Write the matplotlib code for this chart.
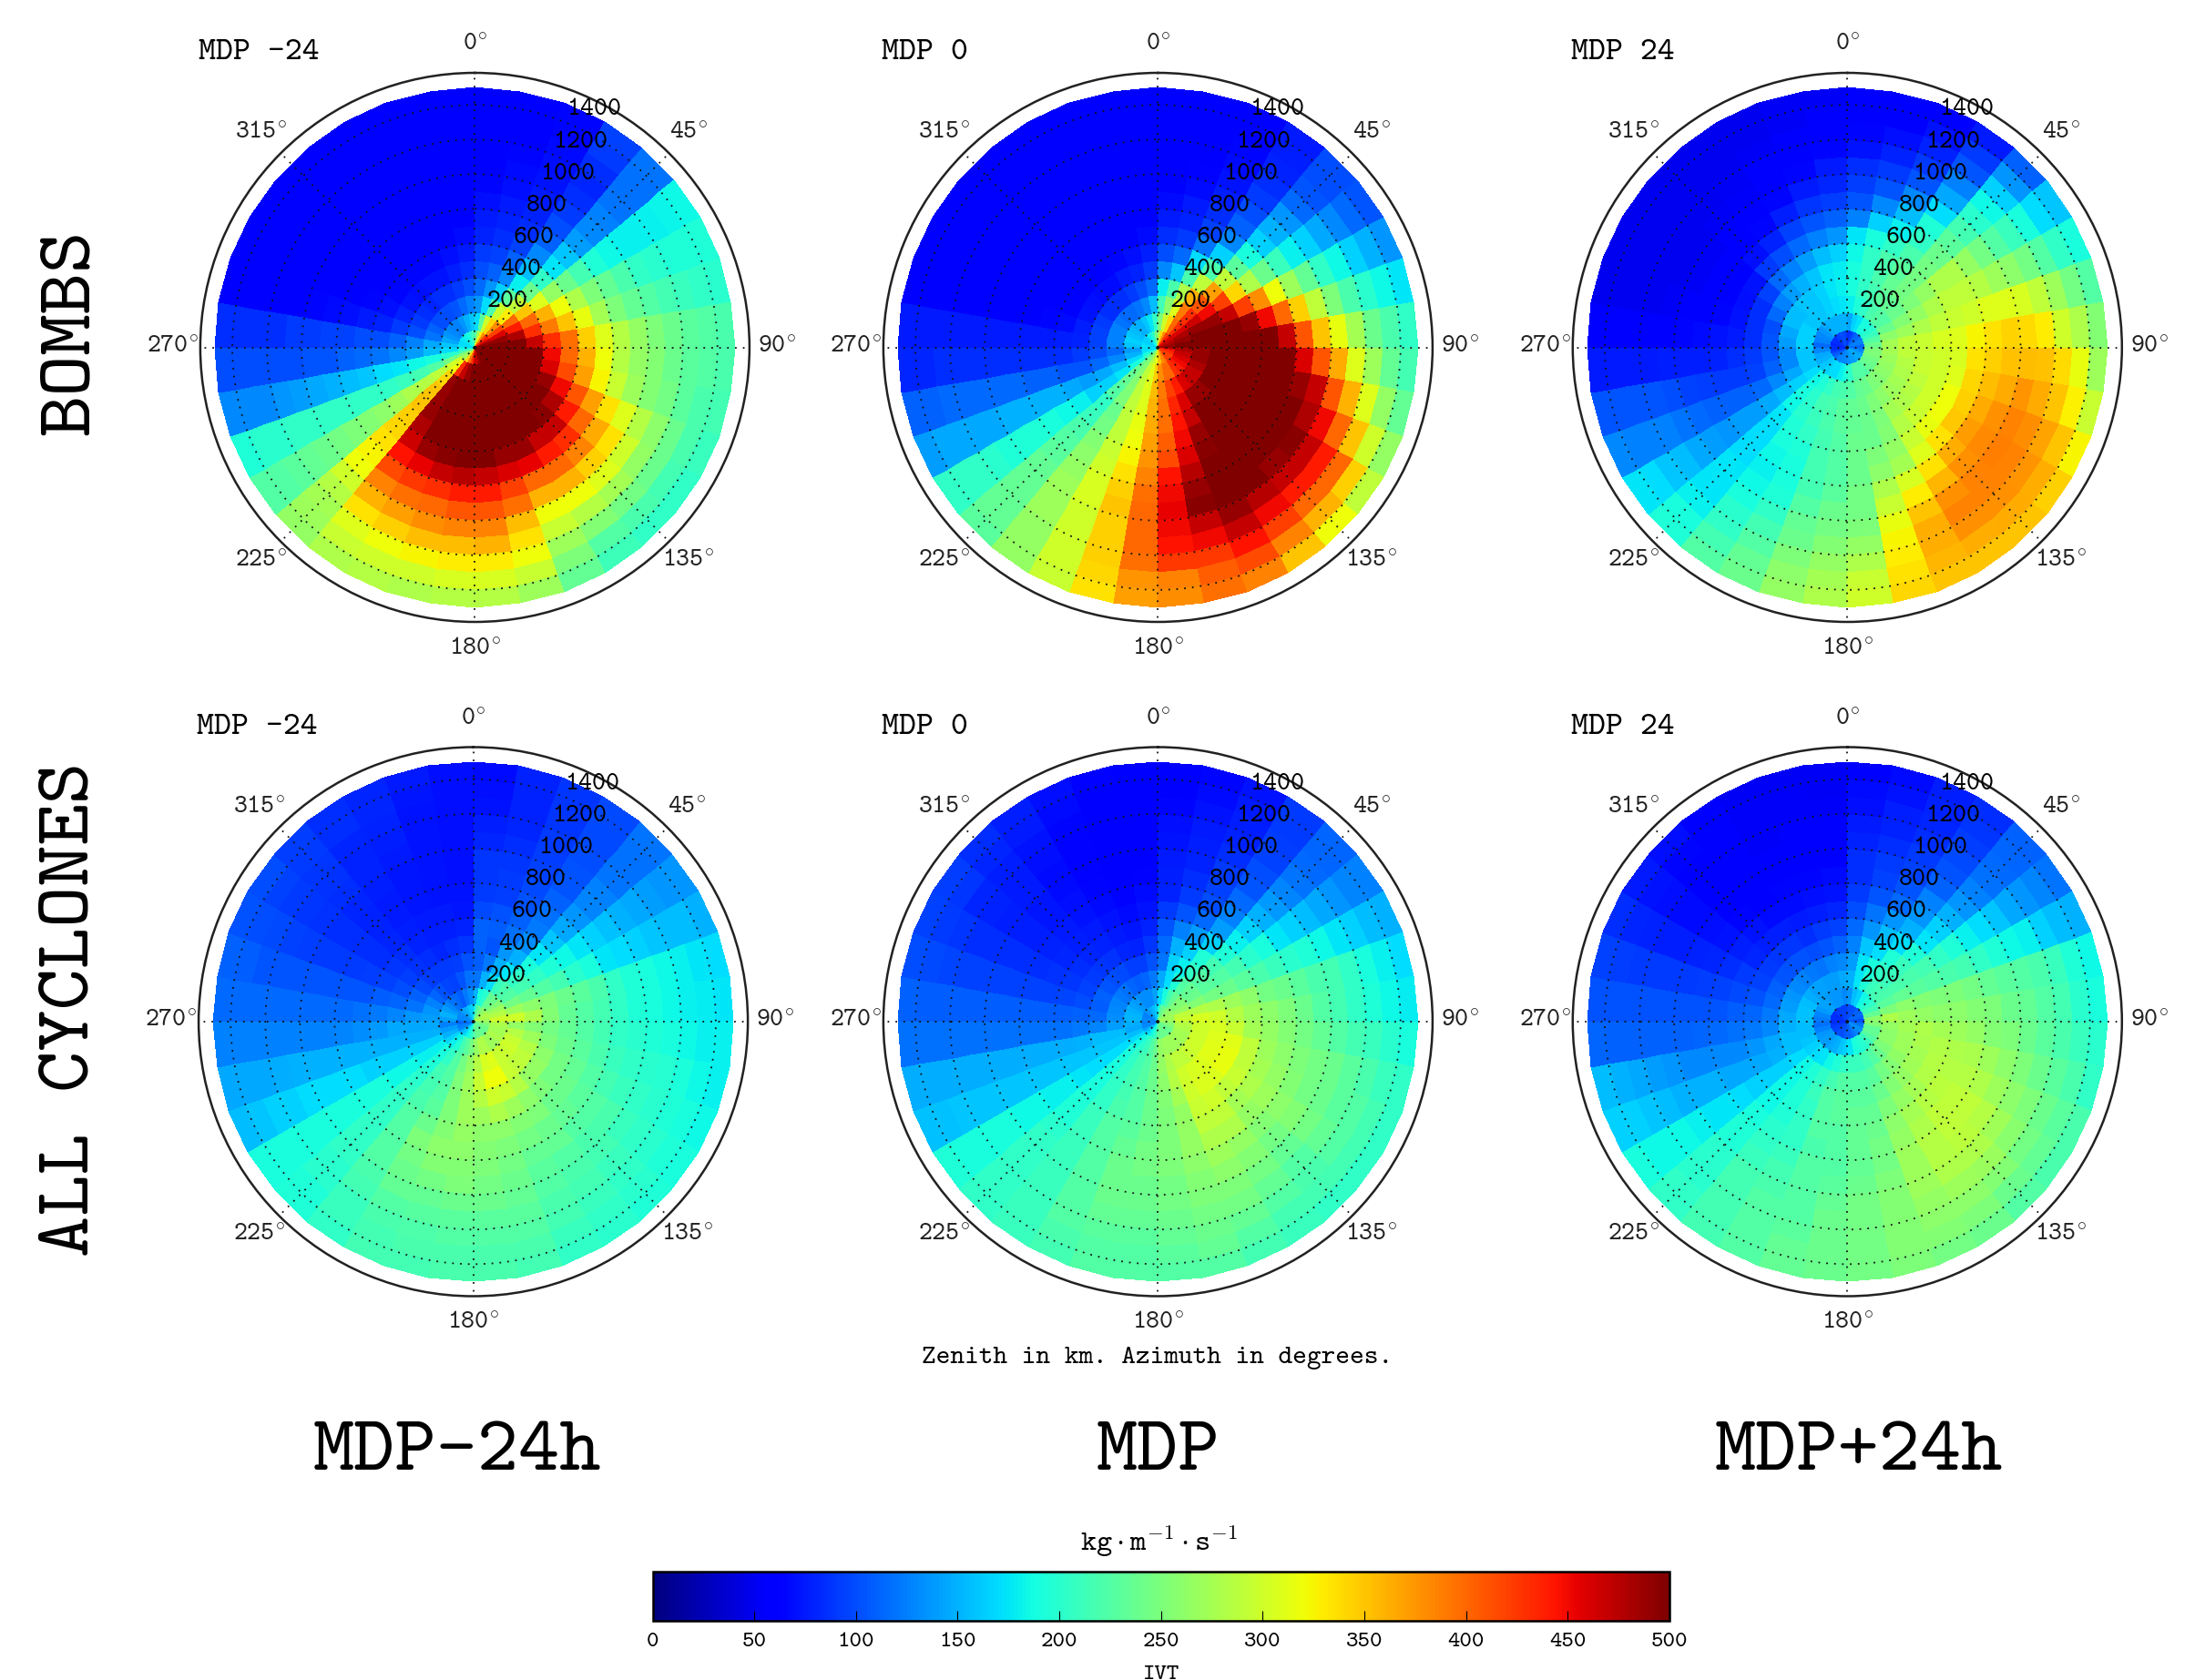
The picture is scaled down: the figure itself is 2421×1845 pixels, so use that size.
import numpy as np
import matplotlib
matplotlib.use('Agg')
import matplotlib.pyplot as plt

plt.rcParams['font.family'] = ['cmtt10', 'DejaVu Sans']
plt.rcParams['mathtext.fontset'] = 'cm'

# sector edges in degrees clockwise from north, range edges in km
azimuth_edges = np.arange(0, 361, 10)
range_edges = np.arange(0, 1501, 100)
range_ticks = [200, 400, 600, 800, 1000, 1200, 1400]
azimuth_ticks = [0, 45, 90, 135, 180, 225, 270, 315]
cbar_ticks = [0, 50, 100, 150, 200, 250, 300, 350, 400, 450, 500]

# IVT, one row per 10 degree sector, inner ring first
bombs_m24 = [
    [230,170,135,115,100,90,80,75,70,65,60,60,55,55,55],
    [280,230,170,135,110,95,85,80,75,70,68,65,62,60,58],
    [330,300,220,165,130,110,95,85,80,75,72,70,68,65,65],
    [380,340,300,230,180,155,130,110,100,90,85,82,85,90,95],
    [420,380,330,290,240,205,175,160,140,130,125,120,118,118,120],
    [440,420,400,350,310,265,240,215,195,185,180,180,180,182,185],
    [470,460,440,400,360,320,280,250,235,220,205,200,195,195,195],
    [490,490,480,430,390,350,315,275,250,235,225,215,210,205,200],
    [500,500,500,470,430,395,345,310,285,265,250,240,230,225,220],
    [500,500,500,500,450,400,360,320,285,265,255,240,230,225,220],
    [500,500,500,500,460,415,370,325,295,270,255,245,230,220,215],
    [500,500,500,500,490,450,410,370,335,310,285,260,240,220,210],
    [500,500,500,500,500,480,440,400,365,335,300,265,240,215,205],
    [500,500,500,500,500,495,470,430,385,345,310,275,245,220,205],
    [500,500,500,500,500,500,470,440,400,360,320,285,255,225,212],
    [500,500,500,500,500,500,490,455,400,360,320,295,270,250,235],
    [490,500,500,500,500,500,490,460,420,395,355,335,320,295,270],
    [470,500,500,500,500,500,500,470,440,410,385,360,330,305,285],
    [450,500,500,500,500,500,500,475,440,410,385,355,330,305,285],
    [420,490,500,500,500,500,495,470,430,400,380,355,325,300,280],
    [390,470,500,500,500,500,490,455,425,395,370,345,320,300,285],
    [340,430,490,490,490,480,465,445,415,385,360,335,310,295,280],
    [280,320,340,350,350,345,340,335,325,320,300,285,275,270,265],
    [270,300,290,285,280,270,260,255,250,245,240,235,230,225,225],
    [250,245,225,215,210,205,205,205,205,205,205,205,200,200,195],
    [215,200,190,185,175,170,160,155,150,145,140,135,130,130,130],
    [190,170,155,140,130,120,115,110,105,105,100,100,100,100,100],
    [175,160,145,125,110,100,100,95,95,90,90,85,85,85,85],
    [170,145,120,100,90,80,75,70,68,65,62,60,60,60,58],
    [170,135,110,90,80,70,65,60,58,55,55,55,55,55,55],
    [175,130,100,85,72,65,60,58,56,56,55,55,55,55,55],
    [180,125,100,82,70,65,60,58,56,55,55,55,55,55,55],
    [185,125,100,85,72,65,62,58,56,55,55,55,55,55,55],
    [190,135,105,85,72,65,60,58,56,55,55,55,55,55,55],
    [200,150,115,90,78,70,62,60,58,56,55,55,55,55,55],
    [215,160,125,100,85,75,68,62,60,58,58,56,56,56,56],
]
bombs_0 = [
    [280,250,215,180,130,100,85,75,68,62,60,58,56,55,55],
    [340,300,260,220,160,115,90,80,75,68,64,62,60,58,58],
    [380,340,310,280,220,170,120,95,85,78,72,68,65,62,60],
    [420,400,390,360,290,220,165,130,110,100,90,85,80,78,75],
    [440,430,430,410,370,290,230,190,165,150,135,115,105,100,100],
    [460,460,465,450,420,340,280,240,210,180,165,145,130,115,105],
    [470,480,490,490,470,420,380,320,270,235,205,185,165,150,135],
    [480,490,500,500,500,490,450,400,345,290,250,220,200,185,175],
    [490,500,500,500,500,500,500,470,410,350,315,275,240,220,205],
    [470,480,490,500,500,500,500,500,460,410,365,310,270,235,215],
    [440,470,490,500,500,500,500,500,490,470,410,360,310,265,235],
    [430,460,480,500,500,500,500,500,500,480,450,400,350,300,265],
    [420,450,470,500,500,500,500,500,500,495,470,440,400,345,290],
    [420,440,470,490,500,500,500,500,500,490,470,440,400,360,320],
    [420,430,460,490,500,500,500,500,500,500,475,450,420,385,350],
    [390,400,440,460,470,490,495,500,500,500,490,470,445,415,385],
    [380,400,420,435,445,450,460,475,490,495,470,450,425,405,395],
    [350,380,390,395,395,405,415,445,450,455,450,445,425,385,380],
    [320,345,355,360,365,370,375,385,395,400,400,400,395,375,370],
    [300,310,310,310,315,320,325,335,345,350,345,345,345,340,335],
    [280,290,290,290,290,290,295,300,305,305,300,300,300,300,295],
    [250,255,255,250,240,245,255,260,265,270,270,270,265,265,265],
    [240,240,235,225,205,210,220,225,230,235,235,235,235,235,230],
    [210,190,175,165,165,180,185,190,195,195,195,200,205,205,205],
    [190,170,155,145,140,145,150,150,150,150,145,145,145,145,140],
    [175,150,130,115,105,105,110,110,115,115,115,115,115,110,110],
    [170,140,115,100,90,85,85,85,85,85,85,85,85,82,82],
    [175,160,125,95,80,78,75,75,75,75,75,75,75,75,75],
    [170,165,125,95,78,68,65,62,60,60,60,60,60,60,60],
    [165,160,125,90,72,62,58,56,55,55,55,55,55,55,55],
    [165,155,120,85,70,60,56,55,55,55,55,55,55,55,55],
    [170,150,115,85,68,58,55,55,55,55,55,55,55,55,55],
    [180,150,115,85,68,60,56,55,55,55,55,55,55,55,55],
    [190,160,120,90,75,65,58,55,55,55,55,55,55,55,55],
    [210,175,130,100,80,70,62,58,55,55,55,55,55,55,55],
    [245,205,155,115,90,78,68,62,58,56,55,55,55,55,55],
]
bombs_p24 = [
    [85,145,180,190,190,185,175,125,105,92,85,72,65,60,55],
    [90,165,195,205,205,205,190,165,130,105,90,80,70,62,58],
    [100,175,205,215,220,220,205,180,155,130,105,90,80,72,62],
    [110,190,220,230,235,230,220,205,195,170,145,125,105,90,75],
    [115,190,225,235,245,245,245,240,230,215,200,185,165,135,110],
    [120,200,225,240,250,265,280,280,265,245,225,210,190,170,160],
    [125,210,240,255,265,280,290,290,285,270,260,245,225,205,190],
    [125,225,260,270,280,290,295,300,310,310,305,290,270,245,225],
    [115,240,275,290,295,305,310,325,335,342,338,330,300,280,255],
    [120,250,275,290,295,300,305,335,345,352,355,352,338,315,270],
    [130,250,270,285,295,300,310,340,355,365,375,365,350,328,295],
    [140,245,265,280,290,300,320,345,365,378,385,380,368,350,325],
    [145,240,260,275,285,300,320,348,372,382,388,385,375,362,345],
    [150,235,255,270,280,295,315,335,362,378,385,385,378,365,350],
    [145,225,250,260,275,285,295,310,335,358,378,385,378,362,350],
    [140,225,240,250,250,255,265,275,305,330,350,362,362,358,350],
    [140,225,235,240,240,240,250,260,280,295,315,325,330,335,340],
    [135,205,225,235,235,240,240,240,245,245,250,265,280,295,300],
    [130,190,220,230,230,225,225,225,230,240,245,255,265,275,280],
    [130,180,215,220,220,215,215,215,215,225,235,240,250,260,265],
    [130,170,205,215,210,205,195,190,190,195,205,215,225,235,240],
    [125,170,195,200,200,195,190,185,180,185,190,200,205,215,225],
    [125,165,185,190,185,175,170,170,170,175,175,175,180,190,195],
    [115,160,170,165,155,145,140,140,135,140,145,155,160,170,175],
    [105,150,160,145,130,115,110,110,110,115,120,125,125,125,130],
    [95,145,160,130,110,95,90,90,92,95,100,105,105,105,105],
    [85,130,160,130,105,90,85,80,78,78,78,76,76,75,75],
    [85,115,165,140,105,85,75,72,68,65,62,62,60,60,60],
    [80,125,165,145,100,85,72,65,60,55,52,50,50,50,50],
    [85,130,165,155,115,85,70,60,55,52,50,50,50,50,50],
    [85,135,160,155,125,95,72,60,55,52,50,50,50,50,50],
    [90,145,160,160,140,115,90,70,60,55,52,50,50,50,50],
    [95,150,160,160,150,125,100,80,65,58,54,52,50,50,50],
    [100,150,165,165,160,140,115,95,78,65,58,55,52,50,50],
    [100,150,170,175,175,155,125,105,88,75,65,58,55,52,52],
    [95,150,175,180,178,165,135,110,92,82,75,65,60,55,52],
]
all_m24 = [
    [180,150,120,108,110,110,98,90,88,88,82,78,72,70,68],
    [220,190,150,122,105,108,102,92,90,88,85,82,80,80,80],
    [240,200,170,150,135,118,110,102,98,95,92,90,88,88,88],
    [250,235,210,175,150,132,122,118,110,105,102,100,98,98,98],
    [260,240,220,205,190,175,160,145,135,128,125,120,118,118,120],
    [270,255,225,215,205,195,185,175,165,158,150,145,140,135,135],
    [280,270,245,235,225,215,200,190,175,170,165,160,155,155,150],
    [280,285,270,260,250,240,230,220,205,195,190,185,180,175,170],
    [270,300,300,280,255,235,225,215,205,195,190,185,180,178,175],
    [260,280,265,255,245,235,225,215,205,200,195,190,185,180,180],
    [250,275,285,270,250,240,230,220,210,205,200,198,192,185,180],
    [240,275,295,285,260,245,235,225,215,210,205,200,195,190,185],
    [240,280,300,290,265,245,240,230,225,220,210,205,200,195,190],
    [235,270,295,290,265,250,240,235,225,220,215,210,205,200,195],
    [235,270,295,295,285,260,250,240,235,225,220,215,210,205,200],
    [240,280,310,320,295,270,255,245,235,230,225,220,215,210,205],
    [240,280,305,320,300,280,260,250,245,240,235,230,225,220,215],
    [230,265,285,295,285,270,260,255,250,245,240,230,225,220,220],
    [210,245,265,270,270,270,265,260,255,250,240,230,225,220,220],
    [195,230,245,250,250,250,255,260,255,245,235,228,222,220,215],
    [185,215,225,225,225,230,240,250,245,240,235,225,220,215,215],
    [170,195,205,215,215,220,225,225,225,225,220,215,210,210,205],
    [160,180,190,195,200,205,205,205,205,205,205,200,200,195,195],
    [145,165,180,180,185,185,190,190,190,190,190,190,190,190,190],
    [130,150,165,165,165,165,165,170,170,170,170,165,165,160,155],
    [125,140,150,150,150,150,150,150,150,150,150,148,145,145,145],
    [115,125,145,145,145,138,132,128,126,125,125,125,125,125,125],
    [120,140,140,135,128,122,118,115,115,115,115,115,115,115,115],
    [130,150,135,120,112,108,105,105,105,105,105,105,105,108,110],
    [130,140,125,110,100,95,92,90,90,90,92,95,98,100,102],
    [130,130,112,98,92,88,85,84,84,84,86,88,90,95,100],
    [140,120,102,92,86,84,82,80,80,82,84,86,88,90,92],
    [145,115,96,90,84,80,78,76,76,78,80,80,82,85,85],
    [150,108,95,90,82,78,76,74,74,74,76,78,80,82,82],
    [160,122,104,92,84,78,76,72,72,72,72,72,72,74,76],
    [165,132,118,102,88,80,74,72,70,70,70,70,70,70,70],
]
all_0 = [
    [190,170,145,120,115,105,90,80,78,75,72,70,65,62,60],
    [230,190,170,165,150,125,105,90,85,80,78,75,72,68,65],
    [240,215,195,180,165,140,115,100,95,90,85,80,78,75,72],
    [250,235,225,205,195,165,140,125,115,105,100,95,92,90,90],
    [260,250,235,225,215,195,180,165,150,138,128,120,115,112,112],
    [265,255,240,230,225,215,200,190,175,165,155,145,135,128,125],
    [270,265,255,245,240,230,220,210,200,195,185,175,165,155,150],
    [270,290,285,280,270,260,245,240,230,220,215,205,190,180,170],
    [270,295,305,300,285,270,260,250,240,225,215,205,195,185,178],
    [260,285,300,305,295,275,265,255,245,235,225,215,210,200,190],
    [255,280,300,310,312,290,270,260,250,245,240,230,220,210,205],
    [245,275,300,312,315,290,275,265,255,245,240,230,225,215,205],
    [240,275,300,312,315,295,280,270,260,255,245,235,225,215,205],
    [235,270,295,308,308,290,275,265,255,245,235,225,220,215,205],
    [240,270,290,305,308,300,290,280,265,255,245,235,225,215,210],
    [240,270,290,300,300,295,290,280,270,260,250,245,235,225,215],
    [240,270,280,285,275,265,265,265,260,255,250,245,240,235,225],
    [235,265,265,260,255,250,250,250,250,245,245,240,235,230,225],
    [220,240,240,240,240,240,240,245,245,240,240,235,230,225,225],
    [205,225,225,225,225,225,230,235,240,240,240,235,230,225,225],
    [190,210,215,215,215,220,225,225,225,225,225,225,225,220,215],
    [180,200,205,205,205,205,210,210,210,210,210,210,210,210,210],
    [165,185,190,190,190,190,195,195,200,205,205,205,205,205,205],
    [155,170,170,170,170,175,180,180,185,185,190,190,190,190,195],
    [140,155,160,160,160,160,160,160,160,160,160,160,160,158,158],
    [130,145,155,155,150,148,148,148,148,148,148,148,148,148,148],
    [125,148,140,128,122,118,118,118,118,118,118,118,118,118,118],
    [130,152,132,115,110,108,108,108,108,108,108,108,108,108,110],
    [130,152,130,108,100,96,95,95,95,95,95,95,96,98,100],
    [125,148,128,110,95,88,86,85,85,85,85,85,88,90,95],
    [125,142,122,105,90,85,82,80,78,78,78,80,82,88,92],
    [135,138,118,100,88,82,78,76,74,74,75,76,78,82,85],
    [140,132,112,98,86,80,76,72,70,68,68,70,72,76,78],
    [150,132,108,92,82,76,72,68,66,64,64,64,66,68,70],
    [155,132,112,92,80,74,68,64,62,62,62,62,62,62,64],
    [165,142,122,102,88,80,72,68,64,62,60,60,60,60,60],
]
all_p24 = [
    [100,135,150,140,125,115,100,90,85,85,80,75,70,68,60],
    [100,155,175,175,160,135,120,105,95,90,85,80,78,72,68],
    [100,165,195,190,170,155,135,115,105,95,90,85,82,80,78],
    [105,185,210,205,195,170,150,135,125,110,102,98,92,88,85],
    [110,195,215,210,210,195,175,165,150,135,125,118,115,112,110],
    [110,205,220,220,220,215,205,195,180,170,160,145,135,128,120],
    [115,215,230,235,230,225,220,215,205,195,185,180,165,155,150],
    [110,235,250,260,255,250,250,245,235,230,225,220,210,195,185],
    [100,260,280,270,265,260,260,255,250,240,235,225,215,200,190],
    [110,255,265,275,280,275,270,265,255,250,240,230,220,210,200],
    [120,235,260,270,278,282,280,278,270,260,250,240,230,220,205],
    [130,235,260,270,275,285,285,285,280,270,260,250,240,230,220],
    [135,225,250,262,272,282,288,290,290,285,272,258,245,235,220],
    [130,210,240,255,265,275,285,290,290,288,280,268,255,240,225],
    [125,200,225,245,255,265,275,280,285,285,280,270,260,250,240],
    [120,195,215,230,240,250,260,265,270,270,270,265,260,255,245],
    [115,190,210,225,230,235,240,245,245,250,255,255,255,255,250],
    [110,175,210,225,230,235,235,235,235,240,245,245,245,245,245],
    [110,165,205,225,230,230,225,225,225,230,235,240,240,240,240],
    [105,160,195,215,225,225,225,220,225,225,225,225,230,235,235],
    [100,150,185,205,210,205,205,205,210,215,220,225,225,225,225],
    [100,145,175,195,195,195,195,200,205,210,215,215,215,215,215],
    [100,140,170,185,185,185,185,190,195,195,200,200,200,205,205],
    [95,140,165,170,165,165,165,170,175,175,180,185,185,185,190],
    [95,135,160,155,150,145,145,145,150,150,150,155,160,165,165],
    [90,125,155,155,145,135,130,130,130,130,135,140,145,150,155],
    [85,118,155,150,130,122,118,115,112,110,110,110,110,110,112],
    [85,122,158,145,122,112,108,105,102,102,102,102,102,102,102],
    [85,128,158,140,115,102,98,95,92,90,90,90,90,92,95],
    [85,138,155,135,110,95,90,85,82,80,78,78,80,82,85],
    [85,142,148,130,105,90,82,78,72,70,68,68,70,72,75],
    [90,142,142,125,102,88,78,72,66,62,60,60,62,65,70],
    [90,138,142,122,102,88,78,68,62,60,58,56,56,56,58],
    [95,135,140,120,100,85,75,68,65,60,56,54,54,54,52],
    [95,135,140,125,105,90,78,70,65,60,58,56,54,54,52],
    [95,130,145,130,110,95,82,72,68,62,58,56,54,52,52],
]

W, H = 2421, 1845
R = 301.5


def px_axes(x0, y0, x1, y1, **kw):
    # position given in picture pixels, y from the top
    return fig.add_axes([x0 / W, 1 - y1 / H, (x1 - x0) / W, (y1 - y0) / H], **kw)


def px_text(x, y, s, size, **kw):
    fig.text(x / W, 1 - y / H, s, fontsize=size, ha=kw.pop('ha', 'center'), va=kw.pop('va', 'center'), **kw)


panels = [
    (bombs_m24, 521.4, 381.5, 'MDP -24', 218, 58),
    (bombs_0, 1271.4, 381.5, 'MDP 0', 968, 58),
    (bombs_p24, 2028.3, 381.5, 'MDP 24', 1725, 58),
    (all_m24, 519.6, 1122, 'MDP -24', 216, 799),
    (all_0, 1271.4, 1122, 'MDP 0', 968, 799),
    (all_p24, 2028.3, 1122, 'MDP 24', 1725, 799),
]

fig = plt.figure(figsize=(W / 100, H / 100), dpi=100)

for values, cx, cy, title, tx, ty in panels:
    ax = px_axes(cx - R, cy - R, cx + R, cy + R, projection='polar')
    ax.set_theta_zero_location('N')
    ax.set_theta_direction(-1)
    mesh = ax.pcolormesh(np.deg2rad(azimuth_edges), range_edges, np.array(values).T,
                         cmap='jet', vmin=0, vmax=500, shading='flat', antialiased=False)
    ax.set_rlim(0, 1585)
    ax.set_xticks(np.deg2rad(azimuth_ticks))
    ax.set_xticklabels([])
    ax.set_yticks(range_ticks)
    ax.set_yticklabels([])
    ax.set_axisbelow(False)
    ax.grid(True, color='#111111', linestyle=(0, (1, 3.8)), linewidth=1.3)
    ax.tick_params(axis='x', direction='in', length=4, width=1, color='black', pad=0)
    ax.tick_params(axis='y', length=0)
    ax.spines['polar'].set_linewidth(1.8)
    ax.spines['polar'].set_color('#222222')
    for a in azimuth_ticks:
        ax.text(np.deg2rad(a), 1745, '%d$^{\\!\\circ}$' % a, fontsize=20.5, ha='center', va='center',
                color='#222222', clip_on=False)
    for r in range_ticks:
        ax.annotate(str(r), xy=(np.deg2rad(22.5), r), xytext=(-1, 1.5), textcoords='offset points',
                    fontsize=20.5, ha='left', va='bottom', color='black', zorder=6)
    px_text(tx, ty, title, 26, ha='left')

px_text(80, 365, 'BOMBS', 62, rotation=90)
px_text(80, 1108, 'ALL CYCLONES', 62, rotation=90)
px_text(1271, 1492, 'Zenith in km. Azimuth in degrees.', 21.5)
px_text(502, 1597, 'MDP-24h', 62)
px_text(1271, 1597, 'MDP', 62)
px_text(2041, 1597, 'MDP+24h', 62)

cax = px_axes(716.5, 1726, 1833, 1780)
cbar = fig.colorbar(mesh, cax=cax, orientation='horizontal')
cbar.set_ticks(cbar_ticks)
cbar.ax.tick_params(direction='in', length=8, width=0.8, labelsize=18.5, pad=9, color='black')
cbar.outline.set_linewidth(1.8)
cbar.set_label('IVT', fontsize=18.5, labelpad=11)
px_text(1273, 1692, r'$\mathtt{kg\cdot m^{-1}\cdot s^{-1}}$', 23.5)

fig.savefig('out.png', dpi=100)
